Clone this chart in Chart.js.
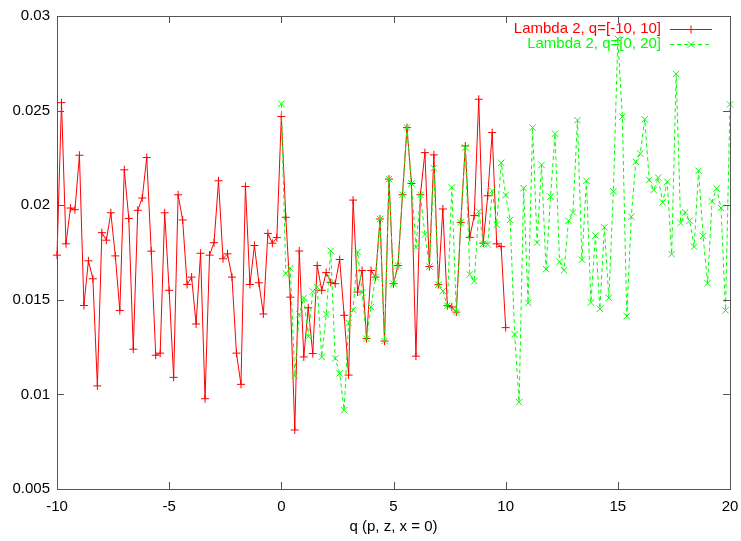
<!DOCTYPE html>
<html>
<head>
<meta charset="utf-8">
<script src="https://cdn.jsdelivr.net/npm/chart.js@4.4.1/dist/chart.umd.min.js"></script>
<style>
  html, body { margin: 0; padding: 0; background: #fff; }
  canvas { display: block; }
</style>
</head>
<body>
<canvas id="lambdaChart" width="741" height="541"></canvas>
<script>
// ==================== DATOS ====================
// Malla de q (paso 0.2) desde -10 hasta 20
const qGrid = [
  -10, -9.8, -9.6, -9.4, -9.2, -9, -8.8, -8.6, -8.4, -8.2,
  -8, -7.8, -7.6, -7.4, -7.2, -7, -6.8, -6.6, -6.4, -6.2,
  -6, -5.8, -5.6, -5.4, -5.2, -5, -4.8, -4.6, -4.4, -4.2,
  -4, -3.8, -3.6, -3.4, -3.2, -3, -2.8, -2.6, -2.4, -2.2,
  -2, -1.8, -1.6, -1.4, -1.2, -1, -0.8, -0.6, -0.4, -0.2,
  0, 0.2, 0.4, 0.6, 0.8, 1, 1.2, 1.4, 1.6, 1.8,
  2, 2.2, 2.4, 2.6, 2.8, 3, 3.2, 3.4, 3.6, 3.8,
  4, 4.2, 4.4, 4.6, 4.8, 5, 5.2, 5.4, 5.6, 5.8,
  6, 6.2, 6.4, 6.6, 6.8, 7, 7.2, 7.4, 7.6, 7.8,
  8, 8.2, 8.4, 8.6, 8.8, 9, 9.2, 9.4, 9.6, 9.8,
  10, 10.2, 10.4, 10.6, 10.8, 11, 11.2, 11.4, 11.6, 11.8,
  12, 12.2, 12.4, 12.6, 12.8, 13, 13.2, 13.4, 13.6, 13.8,
  14, 14.2, 14.4, 14.6, 14.8, 15, 15.2, 15.4, 15.6, 15.8,
  16, 16.2, 16.4, 16.6, 16.8, 17, 17.2, 17.4, 17.6, 17.8,
  18, 18.2, 18.4, 18.6, 18.8, 19, 19.2, 19.4, 19.6, 19.8,
  20
];

// Lambda 2, q en [-10, 10] (qGrid[0..100])
const lambdaRed = [
  0.01736, 0.02542, 0.01796, 0.01985, 0.01976, 0.02264, 0.01470, 0.01706, 0.01611, 0.01045,
  0.01855, 0.01815, 0.01960, 0.01732, 0.01443, 0.02187, 0.01930, 0.01239, 0.01973, 0.02038,
  0.02252, 0.01757, 0.01207, 0.01218, 0.01960, 0.01550, 0.01090, 0.02055, 0.01922, 0.01581,
  0.01620, 0.01372, 0.01746, 0.00977, 0.01736, 0.01802, 0.02129, 0.01717, 0.01743, 0.01620,
  0.01218, 0.01053, 0.02099, 0.01581, 0.01787, 0.01590, 0.01425, 0.01851, 0.01799, 0.01829,
  0.02469, 0.01936, 0.01514, 0.00812, 0.01758, 0.01198, 0.01458, 0.01216, 0.01681, 0.01550,
  0.01644, 0.01592, 0.01585, 0.01713, 0.01418, 0.01102, 0.02027, 0.01541, 0.01655, 0.01295,
  0.01655, 0.01620, 0.01927, 0.01282, 0.02138, 0.01585, 0.01681, 0.02055, 0.02410, 0.02115,
  0.01202, 0.02055, 0.02278, 0.01676, 0.02266, 0.01580, 0.01980, 0.01469, 0.01462, 0.01435,
  0.01909, 0.02313, 0.01830, 0.01945, 0.02560, 0.01799, 0.02050, 0.02384, 0.01796, 0.01781,
  0.01353
];

// Lambda 2, q en [0, 20] (qGrid[50..150])
const lambdaGreen = [
  0.02536, 0.01639, 0.01667, 0.01098, 0.01423, 0.01510, 0.01307, 0.01544, 0.01567, 0.01198,
  0.01423, 0.01759, 0.01190, 0.01111, 0.00917, 0.01378, 0.01447, 0.01753, 0.01539, 0.01294,
  0.01462, 0.01620, 0.01927, 0.01282, 0.02138, 0.01585, 0.01681, 0.02055, 0.02410, 0.02115,
  0.01778, 0.02055, 0.01845, 0.01676, 0.02196, 0.01580, 0.01546, 0.01469, 0.02094, 0.01435,
  0.01909, 0.02305, 0.01634, 0.01599, 0.01967, 0.01796, 0.01792, 0.02076, 0.01897, 0.02224,
  0.02054, 0.01922, 0.01318, 0.00959, 0.02090, 0.01484, 0.02410, 0.01802, 0.02213, 0.01662,
  0.02045, 0.02378, 0.01701, 0.01656, 0.01918, 0.01962, 0.02449, 0.01712, 0.02129, 0.01486,
  0.01839, 0.01452, 0.01883, 0.01510, 0.02073, 0.02879, 0.02468, 0.01413, 0.01939, 0.02229,
  0.02273, 0.02454, 0.02133, 0.02080, 0.02146, 0.02015, 0.02124, 0.01741, 0.02694, 0.01906,
  0.01962, 0.01918, 0.01781, 0.02182, 0.01838, 0.01588, 0.02020, 0.02089, 0.01985, 0.01444,
  0.02533
];

const seriesLabels = ['Lambda 2, q=[-10, 10]', 'Lambda 2, q=[0, 20]'];

// Ticks
const xTicks = [-10, -5, 0, 5, 10, 15, 20];
const xTickLabels = ['-10', '-5', '0', '5', '10', '15', '20'];
const yTicks = [0.005, 0.01, 0.015, 0.02, 0.025, 0.03];
const yTickLabels = ['0.005', '0.01', '0.015', '0.02', '0.025', '0.03'];
const xTitle = 'q (p, z, x = 0)';

// ==================== ESTILO ====================
const RED = '#ff0000';
const GREEN = '#00ff00';
const FRAME = '#555555';
const TICK_LEN = 7;
const FONT = 'Liberation Sans, Arial, Helvetica, sans-serif';

Chart.defaults.font.family = FONT;
Chart.defaults.font.size = 15;
Chart.defaults.color = '#000';

const redPoints = lambdaRed.map((v, i) => ({ x: qGrid[i], y: v }));
const greenPoints = lambdaGreen.map((v, i) => ({ x: qGrid[i + 50], y: v }));

// Marco tipo gnuplot: caja, ticks hacia dentro y leyenda a la derecha
const gnuplotFrame = {
  id: 'gnuplotFrame',
  afterDraw(chart) {
    const { ctx, chartArea: a } = chart;
    const xs = chart.scales.x;
    const ys = chart.scales.y;

    ctx.save();
    ctx.strokeStyle = FRAME;
    ctx.lineWidth = 1;
    ctx.strokeRect(a.left + 0.5, a.top + 0.5, a.right - a.left, a.bottom - a.top);

    ctx.beginPath();
    xTicks.forEach(v => {
      const px = Math.round(xs.getPixelForValue(v)) + 0.5;
      ctx.moveTo(px, a.bottom);
      ctx.lineTo(px, a.bottom - TICK_LEN);
      ctx.moveTo(px, a.top);
      ctx.lineTo(px, a.top + TICK_LEN);
    });
    yTicks.forEach(v => {
      const py = Math.round(ys.getPixelForValue(v)) + 0.5;
      ctx.moveTo(a.left, py);
      ctx.lineTo(a.left + TICK_LEN, py);
      ctx.moveTo(a.right, py);
      ctx.lineTo(a.right - TICK_LEN, py);
    });
    ctx.stroke();

    // Leyenda
    const rows = [
      { label: seriesLabels[0], color: RED, dash: [], marker: 'plus', y: 29 },
      { label: seriesLabels[1], color: GREEN, dash: [4, 3], marker: 'x', y: 44 }
    ];
    ctx.font = '15px ' + FONT;
    ctx.textAlign = 'right';
    ctx.textBaseline = 'middle';
    rows.forEach(r => {
      ctx.fillStyle = r.color;
      ctx.fillText(r.label, 661, r.y);
      ctx.strokeStyle = r.color;
      ctx.lineWidth = 1;
      ctx.setLineDash(r.dash);
      ctx.beginPath();
      ctx.moveTo(670, r.y + 0.5);
      ctx.lineTo(712, r.y + 0.5);
      ctx.stroke();
      ctx.setLineDash([]);
      ctx.beginPath();
      const cx = 691, cy = r.y + 0.5;
      if (r.marker === 'plus') {
        ctx.moveTo(cx - 4, cy); ctx.lineTo(cx + 4, cy);
        ctx.moveTo(cx, cy - 4); ctx.lineTo(cx, cy + 4);
      } else {
        ctx.moveTo(cx - 3.2, cy - 3.2); ctx.lineTo(cx + 3.2, cy + 3.2);
        ctx.moveTo(cx - 3.2, cy + 3.2); ctx.lineTo(cx + 3.2, cy - 3.2);
      }
      ctx.stroke();
    });
    ctx.restore();
  }
};

new Chart(document.getElementById('lambdaChart'), {
  type: 'line',
  data: {
    datasets: [
      {
        label: seriesLabels[0],
        data: redPoints,
        borderColor: RED,
        backgroundColor: RED,
        borderWidth: 1,
        pointStyle: 'cross',
        pointRadius: 4,
        pointBorderWidth: 1,
        pointBorderColor: RED,
        tension: 0,
        clip: false,
        order: 1
      },
      {
        label: seriesLabels[1],
        data: greenPoints,
        borderColor: GREEN,
        backgroundColor: GREEN,
        borderWidth: 1,
        borderDash: [4, 3],
        pointStyle: 'crossRot',
        pointRadius: 4.5,
        pointBorderWidth: 1,
        pointBorderColor: GREEN,
        tension: 0,
        clip: false,
        order: 0
      }
    ]
  },
  options: {
    responsive: false,
    animation: false,
    layout: { padding: { top: 15, right: 11, left: 0, bottom: 0 } },
    plugins: {
      legend: { display: false },
      tooltip: { enabled: false }
    },
    scales: {
      x: {
        type: 'linear',
        min: -10,
        max: 20,
        grid: { display: false, drawTicks: false },
        border: { display: false },
        afterFit: (scale) => {
          scale.height = 52;
          scale.paddingLeft = 0;
          scale.paddingRight = 0;
        },
        afterBuildTicks: (scale) => { scale.ticks = xTicks.map(v => ({ value: v })); },
        ticks: {
          padding: 9,
          color: '#000',
          maxRotation: 0,
          callback: (value, index) => xTickLabels[index]
        },
        title: {
          display: true,
          text: xTitle,
          color: '#000',
          padding: { top: 2, bottom: 5 }
        }
      },
      y: {
        min: 0.005,
        max: 0.03,
        grid: { display: false, drawTicks: false },
        border: { display: false },
        afterFit: (scale) => { scale.width = 57; },
        afterBuildTicks: (scale) => { scale.ticks = yTicks.map(v => ({ value: v })); },
        ticks: {
          padding: 7,
          color: '#000',
          callback: (value, index) => yTickLabels[index]
        }
      }
    }
  },
  plugins: [gnuplotFrame]
});
</script>
</body>
</html>
